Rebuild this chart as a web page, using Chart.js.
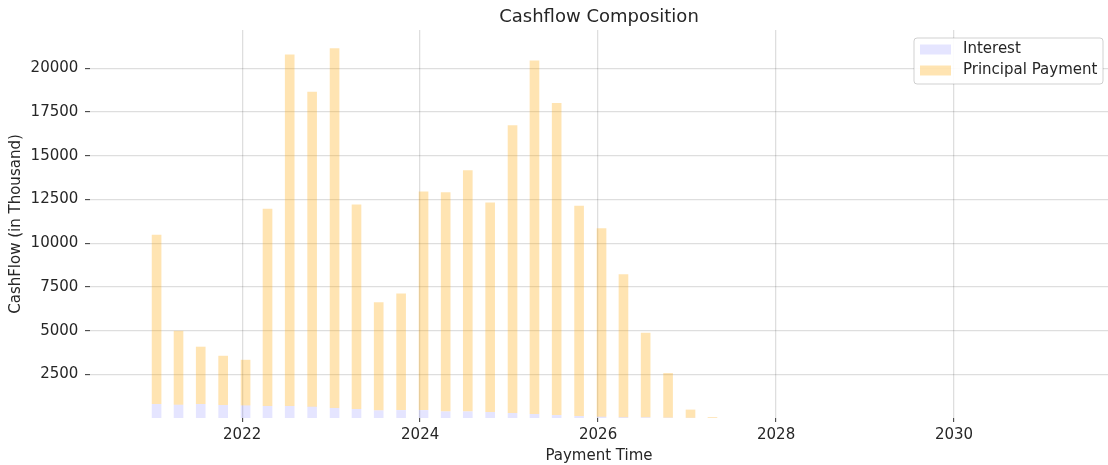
<!DOCTYPE html>
<html>
<head>
<meta charset="utf-8">
<title>Cashflow Composition</title>
<script src="https://cdn.jsdelivr.net/npm/chart.js@4.4.1/dist/chart.umd.min.js"></script>
<style>
    html, body { margin: 0; padding: 0; background: #fff; }
    #wrap { width: 1108px; height: 465px; position: relative; }
</style>
</head>
<body>
<div id="wrap"><canvas id="cashflow"></canvas></div>
<script>
"use strict";

// Quarterly payment dates
const paymentDates = [
    '2021-01-15', '2021-04-15', '2021-07-15', '2021-10-15',
    '2022-01-15', '2022-04-15', '2022-07-15', '2022-10-15',
    '2023-01-15', '2023-04-15', '2023-07-15', '2023-10-15',
    '2024-01-15', '2024-04-15', '2024-07-15', '2024-10-15',
    '2025-01-15', '2025-04-15', '2025-07-15', '2025-10-15',
    '2026-01-15', '2026-04-15', '2026-07-15', '2026-10-15',
    '2027-01-15', '2027-04-15'
];

// In thousand
const interest = [
    800, 760, 800, 745, 720, 690, 690, 650, 575, 515, 440, 455, 455,
    380, 380, 345, 290, 230, 170, 115, 75, 50, 40, 20, 10, 3
];
const principal = [
    9680, 4230, 3280, 2815, 2610, 11280, 20110, 18010, 20575, 11705, 6180, 6675, 12505,
    12530, 13790, 11985, 16460, 20230, 17860, 12025, 10785, 8170, 4840, 2550, 470, 47
];

const xTickYears = [2022, 2024, 2026, 2028, 2030];
const yTickValues = [2500, 5000, 7500, 10000, 12500, 15000, 17500, 20000];

const FONT = "'DejaVu Sans', sans-serif";
const TEXT = '#262626';
const GRID = 'rgba(0, 0, 0, 0.13)';

// date string -> fractional year, so a plain linear axis can stand in for time
function toYear(s) {
    const [y, m, d] = s.split('-').map(Number);
    const start = Date.UTC(y, 0, 1);
    const end = Date.UTC(y + 1, 0, 1);
    return y + (Date.UTC(y, m - 1, d) - start) / (end - start);
}

const xs = paymentDates.map(toYear);
const toPoints = (vals) => vals.map((v, i) => ({ x: xs[i], y: v }));

// matplotlib-like legend box in the upper right of the plot
const boxLegend = {
    id: 'boxLegend',
    afterDraw(chart) {
        const { ctx, chartArea } = chart;
        const w = 189, h = 46;
        const x = chartArea.right - 5 - w;
        const y = chartArea.top + 8;
        ctx.save();
        ctx.beginPath();
        ctx.roundRect(x, y, w, h, 3);
        ctx.fillStyle = 'rgba(255, 255, 255, 0.9)';
        ctx.fill();
        ctx.strokeStyle = 'rgba(0, 0, 0, 0.18)';
        ctx.lineWidth = 1;
        ctx.stroke();
        ctx.font = '15px ' + FONT;
        ctx.textBaseline = 'middle';
        chart.data.datasets.forEach((ds, i) => {
            const cy = y + 11.5 + i * 21;
            ctx.fillStyle = ds.backgroundColor;
            ctx.fillRect(x + 6, cy - 5, 31, 10);
            ctx.fillStyle = TEXT;
            ctx.fillText(ds.label, x + 49, cy);
        });
        ctx.restore();
    }
};

new Chart(document.getElementById('cashflow'), {
    type: 'bar',
    data: {
        datasets: [{
            label: 'Interest',
            data: toPoints(interest),
            backgroundColor: 'rgba(0, 0, 255, 0.1)',
            borderWidth: 0
        }, {
            label: 'Principal Payment',
            data: toPoints(principal),
            backgroundColor: 'rgba(255, 165, 0, 0.3)',
            borderWidth: 0
        }]
    },
    options: {
        responsive: true,
        maintainAspectRatio: false,
        animation: false,
        layout: { padding: 0 },
        datasets: {
            bar: { categoryPercentage: 1, barPercentage: 0.44 }
        },
        plugins: {
            legend: { display: false },
            tooltip: { enabled: false },
            title: {
                display: true,
                text: 'Cashflow Composition',
                fullSize: false,
                color: TEXT,
                font: { family: FONT, size: 18, weight: 'normal' },
                padding: { top: 7, bottom: 1.4 }
            }
        },
        scales: {
            x: {
                type: 'linear',
                stacked: true,
                offset: false,
                min: 2020.29,
                max: 2031.73,
                afterBuildTicks: (scale) => {
                    scale.ticks = xTickYears.map(v => ({ value: v }));
                },
                afterFit: (scale) => { scale.height = 47; },
                border: { display: false },
                grid: {
                    offset: false,
                    color: GRID,
                    lineWidth: 1.3,
                    tickColor: '#333',
                    tickLength: 4,
                    tickWidth: 1
                },
                ticks: {
                    color: TEXT,
                    padding: 4,
                    maxRotation: 0,
                    font: { family: FONT, size: 15 },
                    callback: (v) => String(v)
                },
                title: {
                    display: true,
                    text: 'Payment Time',
                    color: TEXT,
                    font: { family: FONT, size: 15 },
                    padding: { top: 4, bottom: 0 }
                }
            },
            y: {
                stacked: true,
                min: 0,
                max: 22200,
                afterBuildTicks: (scale) => {
                    scale.ticks = yTickValues.map(v => ({ value: v }));
                },
                afterFit: (scale) => { scale.width = 90; },
                border: { display: false },
                grid: {
                    color: GRID,
                    lineWidth: 1.3,
                    tickColor: '#333',
                    tickLength: 5,
                    tickWidth: 1
                },
                ticks: {
                    color: TEXT,
                    padding: 6.7,
                    font: { family: FONT, size: 15 },
                    callback: (v) => String(v)
                },
                title: {
                    display: true,
                    text: 'CashFlow (in Thousand)',
                    color: TEXT,
                    font: { family: FONT, size: 15 },
                    padding: { top: 7, bottom: 0 }
                }
            }
        }
    },
    plugins: [boxLegend]
});
</script>
</body>
</html>
